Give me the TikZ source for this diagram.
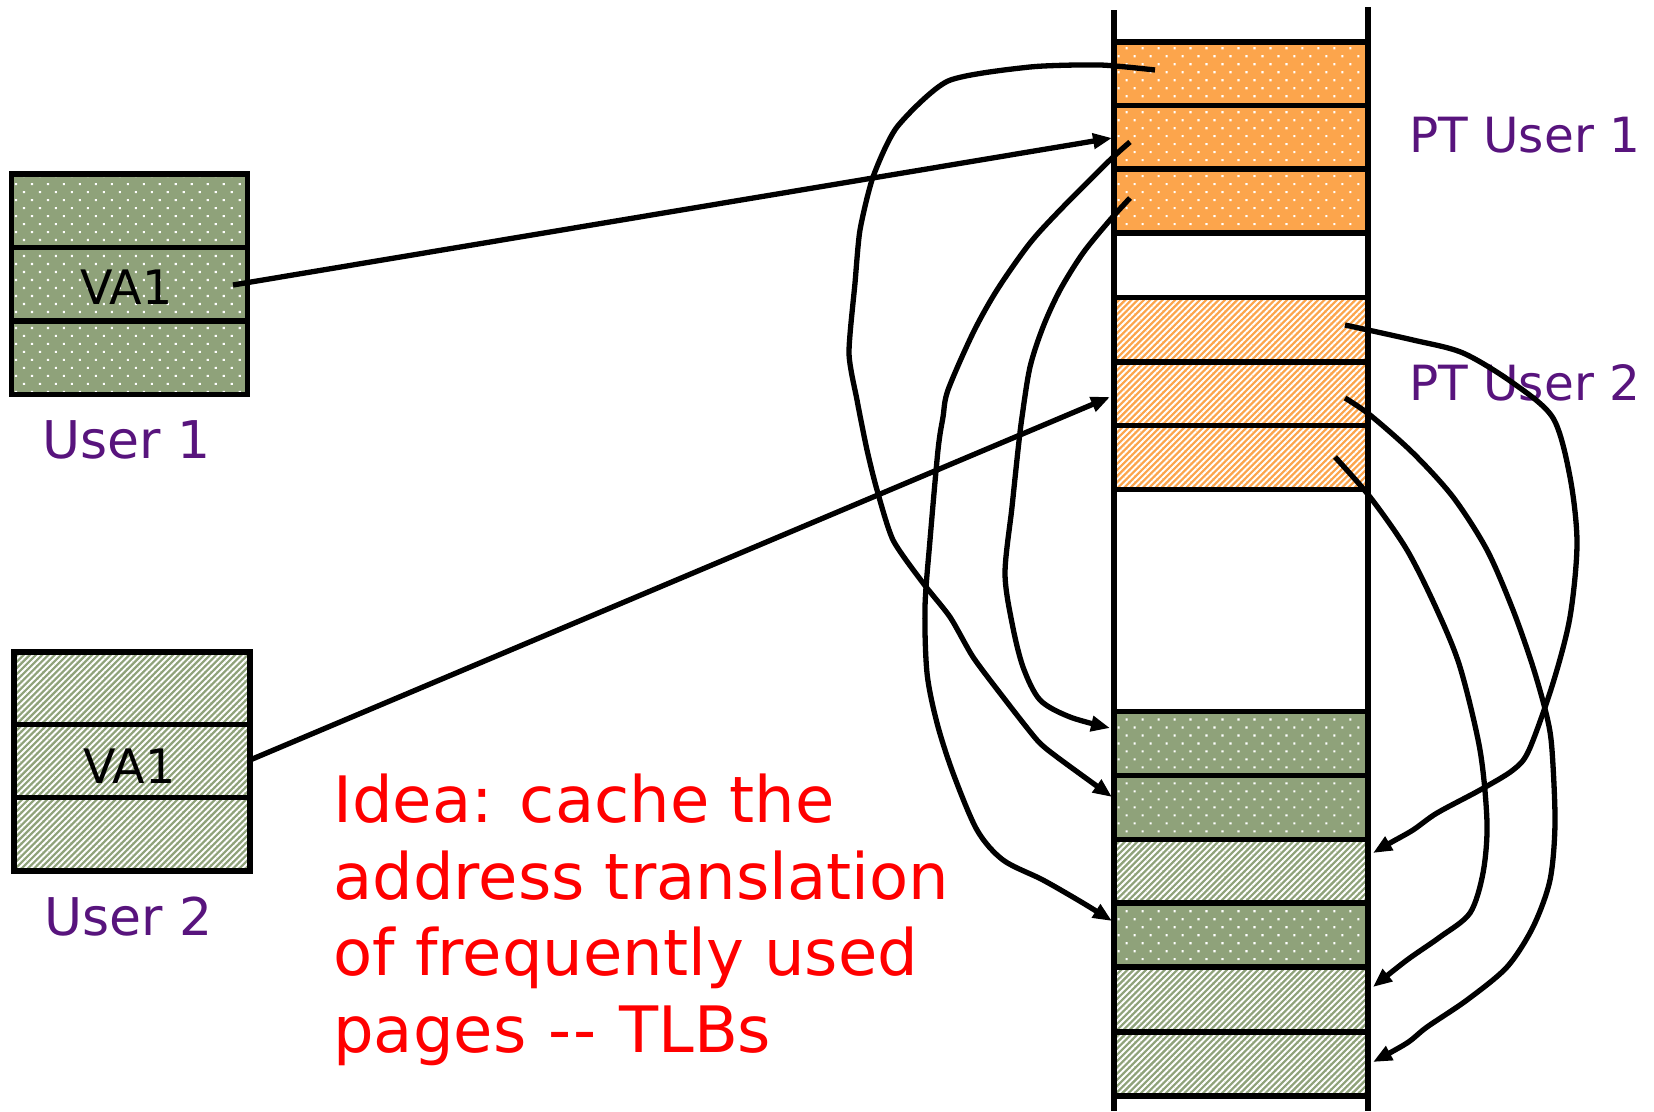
\documentclass[tikz,border=0pt]{standalone}
\usepackage{fontspec}
\setmainfont{DejaVu Sans}
\usetikzlibrary{patterns.meta,arrows.meta}
\definecolor{pgreen}{HTML}{8FA27A}
\definecolor{porange}{HTML}{FCA54C}
\definecolor{ppurple}{HTML}{58147D}
\definecolor{pred}{HTML}{FF0000}
\tikzset{
  cell/.style={draw=black, line width=5.5pt, inner sep=0pt, minimum width=254pt, minimum height=64pt},
  dotcell/.style={cell, preaction={fill=#1}, pattern={Dots[distance=11.3pt, angle=45, radius=1.5pt]}, pattern color=white},
  hatchcell/.style={cell, preaction={fill=#1}, pattern={Lines[angle=45, distance=4.4pt, line width=1.9pt]}, pattern color=white},
  ubox/.style={minimum width=236pt, minimum height=73.5pt},
  memline/.style={line width=5.5pt},
  conn/.style={line width=5.3pt, -{Triangle[length=19pt,width=15pt]}, line join=round},
  lbl/.style={inner sep=0pt, anchor=base west, text=ppurple, font=\fontsize{52pt}{60pt}\selectfont},
  ptlbl/.style={inner sep=0pt, anchor=base west, text=ppurple, font=\fontsize{48.5pt}{56pt}\selectfont},
  valbl/.style={inner sep=0pt, anchor=base west, text=black, font=\fontsize{47.5pt}{55pt}\selectfont},
  idea/.style={inner sep=0pt, anchor=base west, text=pred, font=\fontsize{64pt}{76pt}\selectfont},
}
\begin{document}
\begin{tikzpicture}[x=1pt,y=-1pt]
\useasboundingbox (0,0) rectangle (1654,1111);
% memory column side lines
\coordinate (mlt) at (1114,10); \coordinate (mlb) at (1114,1111);
\coordinate (mrt) at (1368,7); \coordinate (mrb) at (1368,1111);
% rows
\node[dotcell=porange] (o1) at (1241,74) {};
\node[dotcell=porange] (o2) at (1241,137.5) {};
\node[dotcell=porange] (o3) at (1241,201) {};
\node[hatchcell=porange] (h1) at (1241,329.5) {};
\node[hatchcell=porange] (h2) at (1241,394) {};
\node[hatchcell=porange] (h3) at (1241,457.5) {};
\node[dotcell=pgreen] (g1) at (1241,743.5) {};
\node[dotcell=pgreen] (g2) at (1241,807.5) {};
\node[hatchcell=pgreen] (g3) at (1241,871.5) {};
\node[dotcell=pgreen] (g4) at (1241,935) {};
\node[hatchcell=pgreen] (g5) at (1241,999.5) {};
\node[hatchcell=pgreen] (g6) at (1241,1064) {};
\draw[memline] (mlt) -- (mlb);
\draw[memline] (mrt) -- (mrb);
% user boxes
\node[dotcell=pgreen, ubox] (u1a) at (129.5,210.5) {};
\node[dotcell=pgreen, ubox] (u1b) at (129.5,284) {};
\node[dotcell=pgreen, ubox] (u1c) at (129.5,357.5) {};
\node[hatchcell=pgreen, ubox] (u2a) at (132,688.5) {};
\node[hatchcell=pgreen, ubox] (u2b) at (132,761) {};
\node[hatchcell=pgreen, ubox] (u2c) at (132,834) {};
% labels
\node[valbl] (va1) at (80,304) {VA1};
\node[valbl] (va2) at (83,783) {VA1};
\node[lbl] (user1) at (42,458) {User 1};
\node[lbl] (user2) at (44,935) {User 2};
\node[ptlbl] (pt1) at (1409,152) {PT User 1};
\node[ptlbl] (pt2) at (1409,400) {PT User 2};
\node[idea] (i1) at (333,822) {Idea: cache the};
\node[idea] (i2) at (333,899) {address translation};
\node[idea] (i3) at (333,975) {of frequently used};
\node[idea] (i4) at (333,1052) {pages \kern2pt-\kern2pt-\kern2pt{} TLBs};
% connector end points
\coordinate (s1) at (233,285); \coordinate (e1) at (1112,138);
\coordinate (s2) at (250,760); \coordinate (e2) at (1110,397);
\coordinate (sA) at (1155,70); \coordinate (eA) at (1112,797);
\coordinate (sB) at (1130,142); \coordinate (eB) at (1112,921);
\coordinate (sC) at (1130,198); \coordinate (eC) at (1110,728);
\coordinate (sD) at (1345,325); \coordinate (eD) at (1373,853);
\coordinate (sE) at (1345,398); \coordinate (eE) at (1373,1062);
\coordinate (sF) at (1335,457); \coordinate (eF) at (1373,987);
% connectors
\draw[conn] (s1) -- (e1);
\draw[conn] (s2) -- (e2);
\draw[conn] plot[smooth, tension=0.4] coordinates {(sA) (1100,65) (1030,67) (948,81) (897,127) (873,177) (860,230) (855,283) (849,353) (857,400) (867,450) (877,490) (893,540) (923,583) (950,617) (973,657) (1003,697) (1037,740) (1057,757) (eA)};
\draw[conn] plot[smooth, tension=0.5] coordinates {(sB) (1110,160) (1063,207) (1030,243) (997,290) (973,333) (948,390) (943,417) (938,450) (930,540) (925,607) (927,673) (937,723) (953,773) (977,830) (1003,860) (1043,880) (1083,903) (eB)};
\draw[conn] plot[smooth, tension=0.5] coordinates {(sC) (1110,220) (1083,253) (1060,290) (1043,327) (1030,367) (1022,417) (1018,450) (1012,507) (1005,573) (1012,623) (1023,667) (1040,700) (1070,717) (eC)};
\draw[conn] plot[smooth, tension=0.5] coordinates {(sD) (1413,340) (1463,353) (1513,383) (1553,418) (1570,477) (1577,543) (1570,617) (1553,683) (1529,750) (1513,770) (1480,790) (1437,813) (1413,830) (1390,843) (eD)};
\draw[conn] plot[smooth, tension=0.5] coordinates {(sE) (1370,415) (1413,453) (1453,497) (1487,550) (1513,610) (1533,667) (1547,717) (1552,750) (1555,823) (1550,880) (1533,927) (1507,967) (1467,1000) (1427,1027) (1407,1043) (eE)};
\draw[conn] plot[smooth, tension=0.5] coordinates {(sF) (1370,497) (1407,550) (1437,610) (1460,667) (1480,750) (1487,823) (1483,873) (1470,913) (1440,937) (1407,960) (eF)};
\end{tikzpicture}
\end{document}
